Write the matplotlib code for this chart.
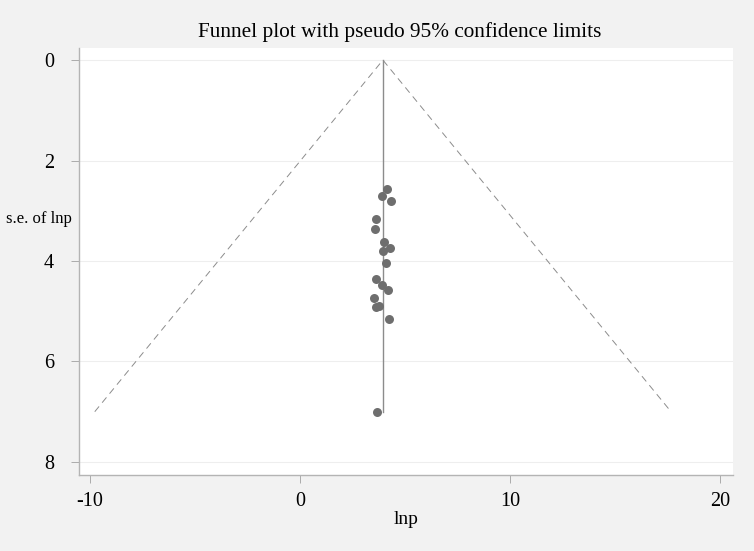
import matplotlib.pyplot as plt
import numpy as np

plt.rcParams['font.family'] = ['Liberation Serif', 'DejaVu Serif']
plt.rcParams['axes.unicode_minus'] = False

# effect sizes (lnp) and their standard errors
lnp = [4.14, 3.90, 4.33, 3.62, 3.57, 3.99, 4.30, 3.94, 4.10,
       3.62, 3.89, 4.18, 3.51, 3.78, 3.60, 4.25, 3.67]
se = [2.57, 2.70, 2.80, 3.16, 3.37, 3.62, 3.74, 3.80, 4.03,
      4.35, 4.47, 4.57, 4.74, 4.90, 4.92, 5.15, 7.00]
pooled = 3.95
xticks = [-10, 0, 10, 20]
yticks = [0, 2, 4, 6, 8]

fig = plt.figure(figsize=(7.54, 5.51), dpi=100, facecolor='#f2f2f2')
ax = fig.add_axes([79/754, 1 - 475/551, (733-79)/754, (475-48)/551])
ax.set_facecolor('white')

# pseudo 95% limits
semax = max(se)
ax.plot([pooled - 1.96*semax, pooled, pooled + 1.96*semax], [semax, 0, semax],
        ls=(0, (7, 5)), color='#8c8c8c', lw=0.7)
ax.plot([pooled, pooled], [0, semax], color='#8c8c8c', lw=1)
ax.scatter(lnp, se, s=42, color='#6e6e6e', zorder=3, linewidths=0)

ax.set_xlim(-10.52, 20.62)
ax.set_ylim(8.26, -0.24)
ax.set_xticks(xticks)
ax.set_yticks(yticks)
for t in yticks:
    ax.axhline(t, color='#eeeeee', lw=0.8, zorder=0)
ax.tick_params(labelsize=14.5, color='#a0a0a0', width=0.6)
ax.tick_params(axis='x', length=5.5, pad=7)
ax.tick_params(axis='y', length=6, pad=12)
for s in ['top', 'right']:
    ax.spines[s].set_visible(False)
for s in ['left', 'bottom']:
    ax.spines[s].set_color('#b4b4b4')
    ax.spines[s].set_linewidth(1)

ax.set_xlabel('lnp', fontsize=14, labelpad=0)
fig.text(6/754, 1 - 219/551, 's.e. of lnp', fontsize=12, va='center', ha='left')
fig.text(400/754, 1 - 32/551,
         'Funnel plot with pseudo 95% confidence limits', fontsize=15.3, ha='center', va='center')

fig.savefig('out.png', dpi=100, facecolor=fig.get_facecolor())
